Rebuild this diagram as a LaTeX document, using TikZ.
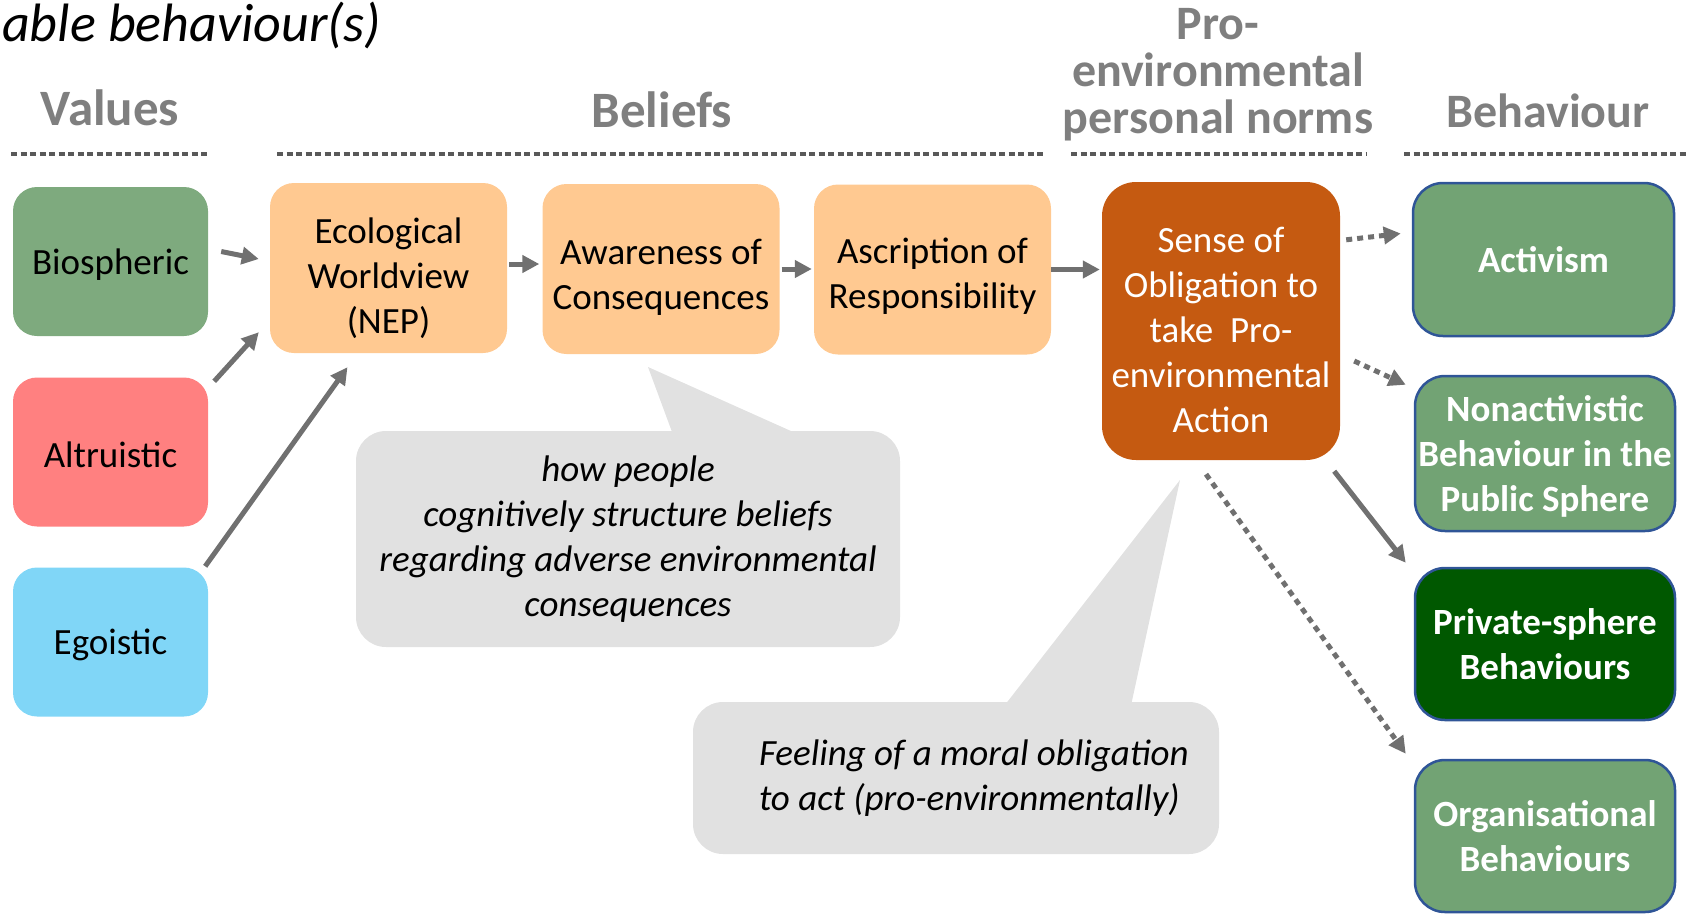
\documentclass[tikz,border=0pt]{standalone}
\usepackage{fontspec}
\setmainfont{Carlito}
\usetikzlibrary{arrows.meta,calc}

\definecolor{biogreen}{HTML}{7EAA7E}
\definecolor{altred}{HTML}{FF8080}
\definecolor{egoblue}{HTML}{80D6F7}
\definecolor{beliefor}{HTML}{FFC991}
\definecolor{normor}{HTML}{C55A11}
\definecolor{behgreen}{HTML}{72A374}
\definecolor{privgreen}{HTML}{005800}
\definecolor{behblue}{HTML}{2F5597}
\definecolor{notegray}{HTML}{E1E1E1}
\definecolor{headgray}{HTML}{7F7F7F}
\definecolor{rulegray}{HTML}{595959}
\definecolor{arrgray}{HTML}{707070}

\newcommand{\boxfont}{\fontsize{37}{45}\selectfont}
\newcommand{\headfont}{\fontsize{48}{47}\selectfont\bfseries}
\newcommand{\titlefont}{\fontsize{54}{54}\selectfont\itshape}
\newcommand{\notefont}{\fontsize{37}{45}\selectfont\itshape}
% taller first line, so the text block sits lower in its box
\newcommand{\dropstrut}[1]{\rule{0pt}{#1}}

\begin{document}
\begin{tikzpicture}[x=1pt,y=-1pt,
    box/.style={rounded corners=24pt, inner sep=0pt, align=center, font=\boxfont},
    valbox/.style={box, minimum width=195pt, minimum height=149pt},
    beliefbox/.style={box, fill=beliefor, minimum width=237pt, minimum height=170pt},
    behbox/.style={box, draw=behblue, line width=2.5pt, text=white, font=\boxfont\bfseries,
      minimum width=260pt, minimum height=152pt, rounded corners=30pt},
    head/.style={text=headgray, font=\headfont, anchor=base, inner sep=0pt, align=center},
    rule/.style={draw=rulegray, line width=4pt, dash pattern=on 6pt off 3.5pt},
    arr/.style={draw=arrgray, line width=5pt, -{Triangle[length=17pt,width=17pt]}},
    dotarr/.style={arr, dash pattern=on 6pt off 5pt},
    note/.style={fill=notegray, rounded corners=30pt, inner sep=0pt, font=\notefont, align=center}]
  \useasboundingbox (0,0) rectangle (1691,916);

  % title and column heads
  \node[anchor=base west, inner sep=0pt, font=\titlefont] (title) at (2,41) {able behaviour(s)};
  \node[head, font=\fontsize{51}{47}\selectfont\bfseries] (hval) at (110,125) {Values};
  \node[head, font=\fontsize{51}{47}\selectfont\bfseries] (hbel) at (662,127) {Beliefs};
  \node[head, anchor=center] (hnorm) at (1218,75) {Pro-\\environmental\\personal norms};
  \node[head] (hbeh) at (1548,127) {Behaviour};
  \draw[rule] (11,154) -- (208,154);
  \draw[rule] (277,154) -- (1044,154);
  \draw[rule] (1071,154) -- (1366,154);
  \draw[rule] (1404,154) -- (1688,154);

  % callouts
  \fill[notegray] (648,367) -- (675,440) -- (811,440) -- cycle;
  \node[note, minimum width=544pt, minimum height=216pt] (cognote) at (628,539)
    {how people\\cognitively structure beliefs\\regarding adverse environmental\\consequences};
  \fill[notegray] (1180,480) -- (1001,710) -- (1130,710) -- cycle;
  \node[note, minimum width=526pt, minimum height=152pt] (oblnote) at (956,778) {};
  \node[font=\notefont, align=left, anchor=west, inner sep=0pt] (obltext)
    at ($(oblnote.west)+(66,0)$) {Feeling of a moral obligation\\to act (pro-environmentally)};

  % values
  \node[valbox, fill=biogreen] (bio) at (110.5,261.5) {\dropstrut{31pt}Biospheric};
  \node[valbox, fill=altred] (alt) at (110.5,452) {\dropstrut{31pt}Altruistic};
  \node[valbox, fill=egoblue] (ego) at (110.5,642) {\dropstrut{31pt}Egoistic};

  % beliefs
  \node[beliefbox] (nep) at (388.5,268) {\dropstrut{46pt}Ecological\\Worldview\\(NEP)};
  \node[beliefbox] (aoc) at (661,269) {\dropstrut{41pt}Awareness of\\Consequences};
  \node[beliefbox] (ar) at (932.5,269.5) {\dropstrut{39pt}Ascription of\\Responsibility};

  % personal norm
  \node[box, fill=normor, text=white, rounded corners=34pt, minimum width=238pt, minimum height=278pt]
    (pn) at (1221,321) {\dropstrut{44pt}Sense of\\Obligation to\\take~ Pro-\\environmental\\Action};

  % behaviours
  \node[behbox, fill=behgreen, minimum width=261pt, minimum height=153pt] (act) at (1543.5,259.5) {Activism};
  \node[behbox, fill=behgreen, minimum height=155pt] (nonact) at (1545,453.5) {\dropstrut{31pt}Nonactivistic\\Behaviour in the\\Public Sphere};
  \node[behbox, fill=privgreen] (priv) at (1545,644) {Private-sphere\\Behaviours};
  \node[behbox, fill=behgreen] (org) at (1545,836) {Organisational\\Behaviours};

  % connectors
  \draw[arr] ($(bio.east)+(13,-10)$) -- ($(nep.west)+(-11,-9)$);
  \draw[arr] ($(alt.north east)+(6,4)$) -- ($(nep.south west)+(-11,-21)$);
  \draw[arr] ($(ego.north east)+(-3,-1)$) -- ($(nep.south)+(-41,14)$);
  \draw[arr, shorten <=2pt, shorten >=3pt] ([yshift=4pt]nep.east) -- ([yshift=4pt]nep.east -| aoc.west);
  \draw[arr, shorten <=2pt, shorten >=2pt] (aoc.east) -- (aoc.east -| ar.west);
  \draw[arr, shorten >=2pt] (ar.east) -- (ar.east -| pn.west);
  \draw[dotarr] ($(pn.north east)+(6,58)$) -- ($(act.west)+(-11,-26)$);
  \draw[dotarr] ($(pn.east)+(14,40)$) -- ($(nonact.north west)+(-8,10)$);
  \draw[arr] ($(pn.south east)+(-6,11)$) -- ($(priv.north west)+(-8,-4)$);
  \draw[dotarr] ($(pn.south)+(-15,14)$) -- ($(org.north west)+(-8,-5)$);
\end{tikzpicture}
\end{document}
